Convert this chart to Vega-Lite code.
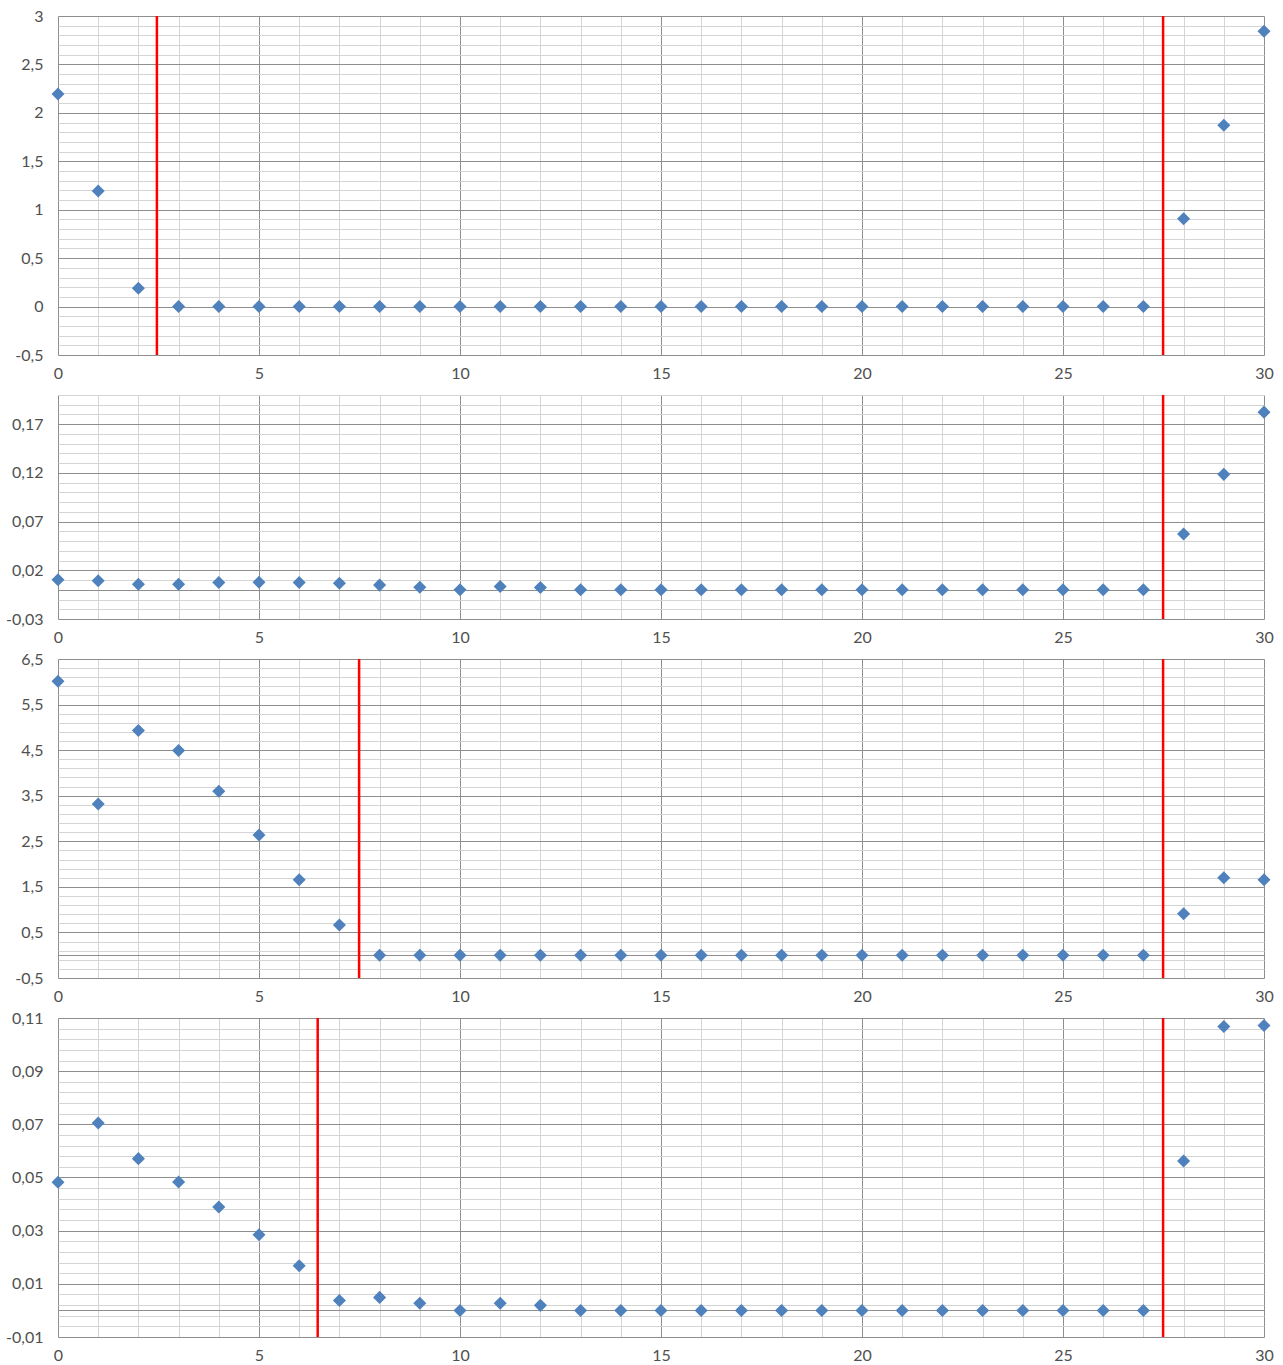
{
  "$schema": "https://vega.github.io/schema/vega-lite/v6.json",
  "padding": {"top": 8, "left": 5, "right": 10, "bottom": 5},
  "background": "white",
  "config": {
    "view": {"stroke": null},
    "axis": {"labelFont": "Lato", "labelFontSize": 16, "labelColor": "#505050", "ticks": false, "domain": false, "gridWidth": 1, "title": null, "labelOverlap": false},
    "concat": {"spacing": 40}
  },
  "bounds": "flush",
  "spacing": 40,
  "datasets": {
    "p1": [
      {"x": 0, "y": 2.195}, {"x": 1, "y": 1.193}, {"x": 2, "y": 0.19}, {"x": 3, "y": 0}, {"x": 4, "y": 0}, {"x": 5, "y": 0}, {"x": 6, "y": 0}, {"x": 7, "y": 0}, {"x": 8, "y": 0}, {"x": 9, "y": 0}, {"x": 10, "y": 0}, {"x": 11, "y": 0}, {"x": 12, "y": 0}, {"x": 13, "y": 0}, {"x": 14, "y": 0}, {"x": 15, "y": 0}, {"x": 16, "y": 0}, {"x": 17, "y": 0}, {"x": 18, "y": 0}, {"x": 19, "y": 0}, {"x": 20, "y": 0}, {"x": 21, "y": 0}, {"x": 22, "y": 0}, {"x": 23, "y": 0}, {"x": 24, "y": 0}, {"x": 25, "y": 0}, {"x": 26, "y": 0}, {"x": 27, "y": 0}, {"x": 28, "y": 0.907}, {"x": 29, "y": 1.871}, {"x": 30, "y": 2.842}
    ],
    "p2": [
      {"x": 0, "y": 0.0102}, {"x": 1, "y": 0.0092}, {"x": 2, "y": 0.0057}, {"x": 3, "y": 0.0057}, {"x": 4, "y": 0.0074}, {"x": 5, "y": 0.0077}, {"x": 6, "y": 0.0074}, {"x": 7, "y": 0.0068}, {"x": 8, "y": 0.0048}, {"x": 9, "y": 0.0026}, {"x": 10, "y": 0}, {"x": 11, "y": 0.0033}, {"x": 12, "y": 0.0023}, {"x": 13, "y": 0}, {"x": 14, "y": 0}, {"x": 15, "y": 0}, {"x": 16, "y": 0}, {"x": 17, "y": 0}, {"x": 18, "y": 0}, {"x": 19, "y": 0}, {"x": 20, "y": 0}, {"x": 21, "y": 0}, {"x": 22, "y": 0}, {"x": 23, "y": 0}, {"x": 24, "y": 0}, {"x": 25, "y": 0}, {"x": 26, "y": 0}, {"x": 27, "y": 0}, {"x": 28, "y": 0.0572}, {"x": 29, "y": 0.1185}, {"x": 30, "y": 0.1824}
    ],
    "p3": [
      {"x": 0, "y": 6.01}, {"x": 1, "y": 3.316}, {"x": 2, "y": 4.93}, {"x": 3, "y": 4.49}, {"x": 4, "y": 3.6}, {"x": 5, "y": 2.64}, {"x": 6, "y": 1.656}, {"x": 7, "y": 0.662}, {"x": 8, "y": 0}, {"x": 9, "y": 0}, {"x": 10, "y": 0}, {"x": 11, "y": 0}, {"x": 12, "y": 0}, {"x": 13, "y": 0}, {"x": 14, "y": 0}, {"x": 15, "y": 0}, {"x": 16, "y": 0}, {"x": 17, "y": 0}, {"x": 18, "y": 0}, {"x": 19, "y": 0}, {"x": 20, "y": 0}, {"x": 21, "y": 0}, {"x": 22, "y": 0}, {"x": 23, "y": 0}, {"x": 24, "y": 0}, {"x": 25, "y": 0}, {"x": 26, "y": 0}, {"x": 27, "y": 0}, {"x": 28, "y": 0.91}, {"x": 29, "y": 1.7}, {"x": 30, "y": 1.656}
    ],
    "p4": [
      {"x": 0, "y": 0.0482}, {"x": 1, "y": 0.0705}, {"x": 2, "y": 0.0571}, {"x": 3, "y": 0.0483}, {"x": 4, "y": 0.0389}, {"x": 5, "y": 0.0285}, {"x": 6, "y": 0.0168}, {"x": 7, "y": 0.0037}, {"x": 8, "y": 0.0049}, {"x": 9, "y": 0.0027}, {"x": 10, "y": 0}, {"x": 11, "y": 0.0027}, {"x": 12, "y": 0.0019}, {"x": 13, "y": 0}, {"x": 14, "y": 0}, {"x": 15, "y": 0}, {"x": 16, "y": 0}, {"x": 17, "y": 0}, {"x": 18, "y": 0}, {"x": 19, "y": 0}, {"x": 20, "y": 0}, {"x": 21, "y": 0}, {"x": 22, "y": 0}, {"x": 23, "y": 0}, {"x": 24, "y": 0}, {"x": 25, "y": 0}, {"x": 26, "y": 0}, {"x": 27, "y": 0}, {"x": 28, "y": 0.0562}, {"x": 29, "y": 0.1068}, {"x": 30, "y": 0.1072}
    ],
    "r1": [{"x": 2.46}, {"x": 27.49}],
    "r2": [{"x": 27.49}],
    "r3": [{"x": 7.49}, {"x": 27.49}],
    "r4": [{"x": 6.46}, {"x": 27.49}]
  },
  "vconcat": [
    {
      "width": 1206, "height": 339,
      "layer": [
        {
          "data": {"name": "p1"},
          "mark": {"type": "point", "shape": "diamond", "filled": true, "size": 170, "color": "#4F81BD", "opacity": 1},
          "encoding": {
            "x": {"field": "x", "type": "quantitative", "scale": {"domain": [0, 30], "nice": false},
              "axis": {"values": [0,1,2,3,4,5,6,7,8,9,10,11,12,13,14,15,16,17,18,19,20,21,22,23,24,25,26,27,28,29,30], "labelExpr": "datum.value % 5 === 0 ? datum.label : ''", "labelFlush": false, "labelPadding": 10, "gridColor": {"condition": {"test": "datum.value % 5 === 0", "value": "#8e8e8e"}, "value": "#d4d4d4"}}},
            "y": {"field": "y", "type": "quantitative", "scale": {"domain": [-0.5, 3], "nice": false, "zero": false},
              "axis": {"values": [-0.5,-0.4,-0.3,-0.2,-0.1,0,0.1,0.2,0.3,0.4,0.5,0.6,0.7,0.8,0.9,1,1.1,1.2,1.3,1.4,1.5,1.6,1.7,1.8,1.9,2,2.1,2.2,2.3,2.4,2.5,2.6,2.7,2.8,2.9,3], "labelPadding": 15, "labelExpr": "indexof([-0.5,0,0.5,1,1.5,2,2.5,3], datum.value) >= 0 ? replace(toString(datum.value), '.', ',') : ''", "gridColor": {"condition": {"test": "indexof([-0.5,0,0.5,1,1.5,2,2.5,3], datum.value) >= 0", "value": "#8e8e8e"}, "value": "#d4d4d4"}}}
          }
        },
        {
          "data": {"name": "r1"},
          "mark": {"type": "rule", "color": "#FF0000", "strokeWidth": 2.5},
          "encoding": {"x": {"field": "x", "type": "quantitative"}}
        }
      ]
    },
    {
      "width": 1206, "height": 224,
      "layer": [
        {
          "data": {"name": "p2"},
          "mark": {"type": "point", "shape": "diamond", "filled": true, "size": 170, "color": "#4F81BD", "opacity": 1},
          "encoding": {
            "x": {"field": "x", "type": "quantitative", "scale": {"domain": [0, 30], "nice": false},
              "axis": {"values": [0,1,2,3,4,5,6,7,8,9,10,11,12,13,14,15,16,17,18,19,20,21,22,23,24,25,26,27,28,29,30], "labelExpr": "datum.value % 5 === 0 ? datum.label : ''", "labelFlush": false, "labelPadding": 10, "gridColor": {"condition": {"test": "datum.value % 5 === 0", "value": "#8e8e8e"}, "value": "#d4d4d4"}}},
            "y": {"field": "y", "type": "quantitative", "scale": {"domain": [-0.03, 0.2], "nice": false, "zero": false},
              "axis": {"values": [-0.03,-0.02,-0.01,0,0.01,0.02,0.03,0.04,0.05,0.06,0.07,0.08,0.09,0.1,0.11,0.12,0.13,0.14,0.15,0.16,0.17,0.18,0.19,0.2], "labelPadding": 15, "labelExpr": "indexof([-0.03,0.02,0.07,0.12,0.17], datum.value) >= 0 ? replace(toString(datum.value), '.', ',') : ''", "gridColor": {"condition": {"test": "indexof([-0.03,0,0.02,0.07,0.12,0.17], datum.value) >= 0", "value": "#8e8e8e"}, "value": "#d4d4d4"}}}
          }
        },
        {
          "data": {"name": "r2"},
          "mark": {"type": "rule", "color": "#FF0000", "strokeWidth": 2.5},
          "encoding": {"x": {"field": "x", "type": "quantitative"}}
        }
      ]
    },
    {
      "width": 1206, "height": 319,
      "layer": [
        {
          "data": {"name": "p3"},
          "mark": {"type": "point", "shape": "diamond", "filled": true, "size": 170, "color": "#4F81BD", "opacity": 1},
          "encoding": {
            "x": {"field": "x", "type": "quantitative", "scale": {"domain": [0, 30], "nice": false},
              "axis": {"values": [0,1,2,3,4,5,6,7,8,9,10,11,12,13,14,15,16,17,18,19,20,21,22,23,24,25,26,27,28,29,30], "labelExpr": "datum.value % 5 === 0 ? datum.label : ''", "labelFlush": false, "labelPadding": 10, "gridColor": {"condition": {"test": "datum.value % 5 === 0", "value": "#8e8e8e"}, "value": "#d4d4d4"}}},
            "y": {"field": "y", "type": "quantitative", "scale": {"domain": [-0.5, 6.5], "nice": false, "zero": false},
              "axis": {"values": [-0.5,-0.3,-0.1,0,0.1,0.3,0.5,0.7,0.9,1.1,1.3,1.5,1.7,1.9,2.1,2.3,2.5,2.7,2.9,3.1,3.3,3.5,3.7,3.9,4.1,4.3,4.5,4.7,4.9,5.1,5.3,5.5,5.7,5.9,6.1,6.3,6.5], "labelPadding": 15, "labelExpr": "indexof([-0.5,0.5,1.5,2.5,3.5,4.5,5.5,6.5], datum.value) >= 0 ? replace(toString(datum.value), '.', ',') : ''", "gridColor": {"condition": {"test": "indexof([-0.5,0,0.5,1.5,2.5,3.5,4.5,5.5,6.5], datum.value) >= 0", "value": "#8e8e8e"}, "value": "#d4d4d4"}}}
          }
        },
        {
          "data": {"name": "r3"},
          "mark": {"type": "rule", "color": "#FF0000", "strokeWidth": 2.5},
          "encoding": {"x": {"field": "x", "type": "quantitative"}}
        }
      ]
    },
    {
      "width": 1206, "height": 319,
      "layer": [
        {
          "data": {"name": "p4"},
          "mark": {"type": "point", "shape": "diamond", "filled": true, "size": 170, "color": "#4F81BD", "opacity": 1},
          "encoding": {
            "x": {"field": "x", "type": "quantitative", "scale": {"domain": [0, 30], "nice": false},
              "axis": {"values": [0,1,2,3,4,5,6,7,8,9,10,11,12,13,14,15,16,17,18,19,20,21,22,23,24,25,26,27,28,29,30], "labelExpr": "datum.value % 5 === 0 ? datum.label : ''", "labelFlush": false, "labelPadding": 10, "gridColor": {"condition": {"test": "datum.value % 5 === 0", "value": "#8e8e8e"}, "value": "#d4d4d4"}}},
            "y": {"field": "y", "type": "quantitative", "scale": {"domain": [-0.01, 0.11], "nice": false, "zero": false},
              "axis": {"values": [-0.01,-0.006,-0.002,0,0.002,0.006,0.01,0.014,0.018,0.022,0.026,0.03,0.034,0.038,0.042,0.046,0.05,0.054,0.058,0.062,0.066,0.07,0.074,0.078,0.082,0.086,0.09,0.094,0.098,0.102,0.106,0.11], "labelPadding": 15, "labelExpr": "indexof([-0.01,0.01,0.03,0.05,0.07,0.09,0.11], datum.value) >= 0 ? replace(toString(datum.value), '.', ',') : ''", "gridColor": {"condition": {"test": "indexof([-0.01,0,0.01,0.03,0.05,0.07,0.09,0.11], datum.value) >= 0", "value": "#8e8e8e"}, "value": "#d4d4d4"}}}
          }
        },
        {
          "data": {"name": "r4"},
          "mark": {"type": "rule", "color": "#FF0000", "strokeWidth": 2.5},
          "encoding": {"x": {"field": "x", "type": "quantitative"}}
        }
      ]
    }
  ]
}
